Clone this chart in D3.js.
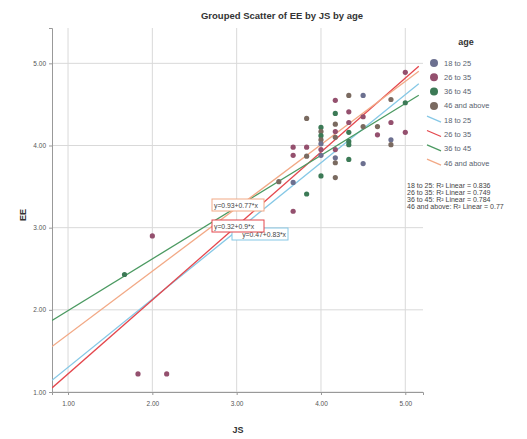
<!DOCTYPE html>
<style>
body { margin: 0; background: #fff; }
svg { font-family: Arial, "Liberation Sans", sans-serif; }
</style>
<svg width="527" height="439"></svg>
<script src="https://d3js.org/d3.v7.min.js"></script>
<script>

// age groups, marker and fit-line colours
var groups = ["18 to 25", "26 to 35", "36 to 45", "46 and above"],
    markerColors = ["#6c7090", "#94506e", "#3c7a56", "#7a6a60"],
    lineColors = ["#86c8e6", "#e4474d", "#4c9a62", "#f2a986"];

// linear fits
var fitIntercept = [0.47, 0.32, 1.36, 0.93],
    fitSlope = [0.83, 0.9, 0.63, 0.77],
    fitR2 = ["0.836", "0.749", "0.784", "0.77"];

var xTicks = [1, 2, 3, 4, 5],
    yTicks = [1, 2, 3, 4, 5];

// points: JS, EE, age group index
var js = [1.67, 2.0, 1.83, 2.17, 3.5, 3.67, 3.67, 3.67, 3.67, 3.83, 3.83, 3.83, 3.83,
          4.0, 4.0, 4.0, 4.0, 4.0, 4.0, 4.0, 4.0,
          4.17, 4.17, 4.17, 4.17, 4.17, 4.17, 4.17, 4.17, 4.17,
          4.33, 4.33, 4.33, 4.33, 4.33, 4.33, 4.33,
          4.5, 4.5, 4.5, 4.5, 4.67, 4.67, 4.83, 4.83, 4.83, 4.83, 5.0, 5.0, 5.0];
var ee = [2.43, 2.9, 1.22, 1.22, 3.56, 3.98, 3.88, 3.55, 3.2, 4.33, 3.98, 3.87, 3.41,
          4.22, 4.17, 4.12, 4.07, 4.02, 3.95, 3.88, 3.63,
          4.55, 4.39, 4.26, 4.17, 4.1, 3.95, 3.85, 3.79, 3.61,
          4.61, 4.41, 4.28, 4.16, 4.05, 4.01, 3.83,
          4.61, 4.35, 4.23, 3.78, 4.23, 4.13, 4.56, 4.28, 4.07, 4.01, 4.89, 4.52, 4.16];
var age = [2, 1, 1, 1, 3, 1, 1, 0, 1, 3, 1, 3, 2,
           2, 3, 2, 3, 0, 1, 0, 2,
           1, 2, 3, 1, 3, 1, 0, 3, 3,
           3, 1, 1, 2, 2, 2, 2,
           0, 1, 3, 0, 3, 1, 3, 1, 0, 3, 1, 2, 1];

var svg = d3.select("svg");

var x = d3.scaleLinear().domain([0.81, 5.21]).range([52, 423]),
    y = d3.scaleLinear().domain([1, 5.43]).range([392, 28]);

var fmt = d3.format(".2f");

// grid
svg.append("g").selectAll("line")
    .data(yTicks).enter().append("line")
    .attr("x1", x.range()[0]).attr("x2", x.range()[1])
    .attr("y1", d => y(d)).attr("y2", d => y(d))
    .attr("stroke", "#d9d9d9").attr("stroke-width", 1);

svg.append("g").selectAll("line")
    .data(xTicks).enter().append("line")
    .attr("x1", d => x(d)).attr("x2", d => x(d))
    .attr("y1", y.range()[0]).attr("y2", y.range()[1])
    .attr("stroke", "#d9d9d9").attr("stroke-width", 1);

// axes
var xAxis = svg.append("g")
    .attr("transform", "translate(0," + y(1) + ")")
    .call(d3.axisBottom(x).tickValues(xTicks).tickFormat(fmt).tickSize(3));
var yAxis = svg.append("g")
    .attr("transform", "translate(" + x.range()[0] + ",0)")
    .call(d3.axisLeft(y).tickValues(yTicks).tickFormat(fmt).tickSize(3));

[xAxis, yAxis].forEach(function(a) {
  a.select(".domain").attr("stroke", "#999");
  a.selectAll(".tick line").attr("stroke", "#999");
  a.selectAll("text").attr("font-size", 6.5).attr("fill", "#555")
      .attr("font-family", "Arial, 'Liberation Sans', sans-serif");
});
xAxis.selectAll("text").attr("dy", "1.2em");

// fit lines
svg.append("clipPath").attr("id", "plot-clip")
  .append("rect")
    .attr("x", x.range()[0]).attr("y", y.range()[1])
    .attr("width", x.range()[1] - x.range()[0])
    .attr("height", y.range()[0] - y.range()[1]);

var xd = x.domain();
svg.append("g").attr("clip-path", "url(#plot-clip)")
  .selectAll("line")
  .data(groups).enter().append("line")
    .attr("x1", x(xd[0]))
    .attr("x2", x(xd[1] - 0.05))
    .attr("y1", (d, i) => y(fitIntercept[i] + fitSlope[i] * xd[0]))
    .attr("y2", (d, i) => y(fitIntercept[i] + fitSlope[i] * (xd[1] - 0.05)))
    .attr("stroke", (d, i) => lineColors[i])
    .attr("stroke-width", 1.3);

// points
svg.append("g").selectAll("circle")
    .data(js).enter().append("circle")
    .attr("cx", d => x(d))
    .attr("cy", (d, i) => y(ee[i]))
    .attr("r", 2.6)
    .attr("fill", (d, i) => markerColors[age[i]]);

// equation labels (blue one sits behind the red one)
var eqOrder = [0, 3, 1],
    eqPos = [[232, 228], [212, 199], [212, 220]];
var eq = svg.append("g").selectAll("g")
    .data(eqOrder).enter().append("g")
    .attr("transform", (d, i) => "translate(" + eqPos[i][0] + "," + eqPos[i][1] + ")");
eq.append("rect")
    .attr("width", d => d == 0 ? 56 : 52).attr("height", 12)
    .attr("fill", "#fff")
    .attr("stroke", d => lineColors[d]).attr("stroke-width", 1);
eq.append("text")
    .attr("x", d => d == 0 ? 54 : 2).attr("y", 8.5)
    .attr("text-anchor", d => d == 0 ? "end" : "start")
    .attr("font-size", 6.8).attr("fill", "#444")
    .text(d => "y=" + fitIntercept[d] + "+" + fitSlope[d] + "*x");

// title and axis titles
svg.append("text")
    .attr("x", 282).attr("y", 19)
    .attr("text-anchor", "middle")
    .attr("font-size", 9.5).attr("font-weight", "bold").attr("fill", "#333")
    .text("Grouped Scatter of EE by JS by age");

svg.append("text")
    .attr("x", 238).attr("y", 433)
    .attr("text-anchor", "middle")
    .attr("font-size", 9).attr("font-weight", "bold").attr("fill", "#333")
    .text("JS");

svg.append("text")
    .attr("transform", "translate(26,215) rotate(-90)")
    .attr("text-anchor", "middle")
    .attr("font-size", 9).attr("font-weight", "bold").attr("fill", "#333")
    .text("EE");

// legend
var legend = svg.append("g");
legend.append("text")
    .attr("x", 466).attr("y", 45)
    .attr("text-anchor", "middle")
    .attr("font-size", 9).attr("font-weight", "bold").attr("fill", "#333")
    .text("age");

var step = 14.3;
var mk = legend.selectAll(".mk").data(groups).enter().append("g")
    .attr("transform", (d, i) => "translate(0," + (63 + i * step) + ")");
mk.append("circle").attr("cx", 434).attr("r", 4)
    .attr("fill", (d, i) => markerColors[i]);
mk.append("text").attr("x", 444).attr("y", 2.5)
    .attr("font-size", 7.5).attr("fill", "#5a5f70").text(d => d);

var ln = legend.selectAll(".ln").data(groups).enter().append("g")
    .attr("transform", (d, i) => "translate(0," + (63 + (i + 4) * step) + ")");
ln.append("line")
    .attr("x1", 427).attr("y1", -4).attr("x2", 441).attr("y2", 2)
    .attr("stroke", (d, i) => lineColors[i]).attr("stroke-width", 1.3);
ln.append("text").attr("x", 444).attr("y", 2.5)
    .attr("font-size", 7.5).attr("fill", "#5a5f70").text(d => d);

legend.selectAll(".r2").data(groups).enter().append("text")
    .attr("x", 407).attr("y", (d, i) => 188 + i * 7)
    .attr("font-size", 7).attr("fill", "#444")
    .text((d, i) => d + ": R\u00b2 Linear = " + fitR2[i]);

</script>
